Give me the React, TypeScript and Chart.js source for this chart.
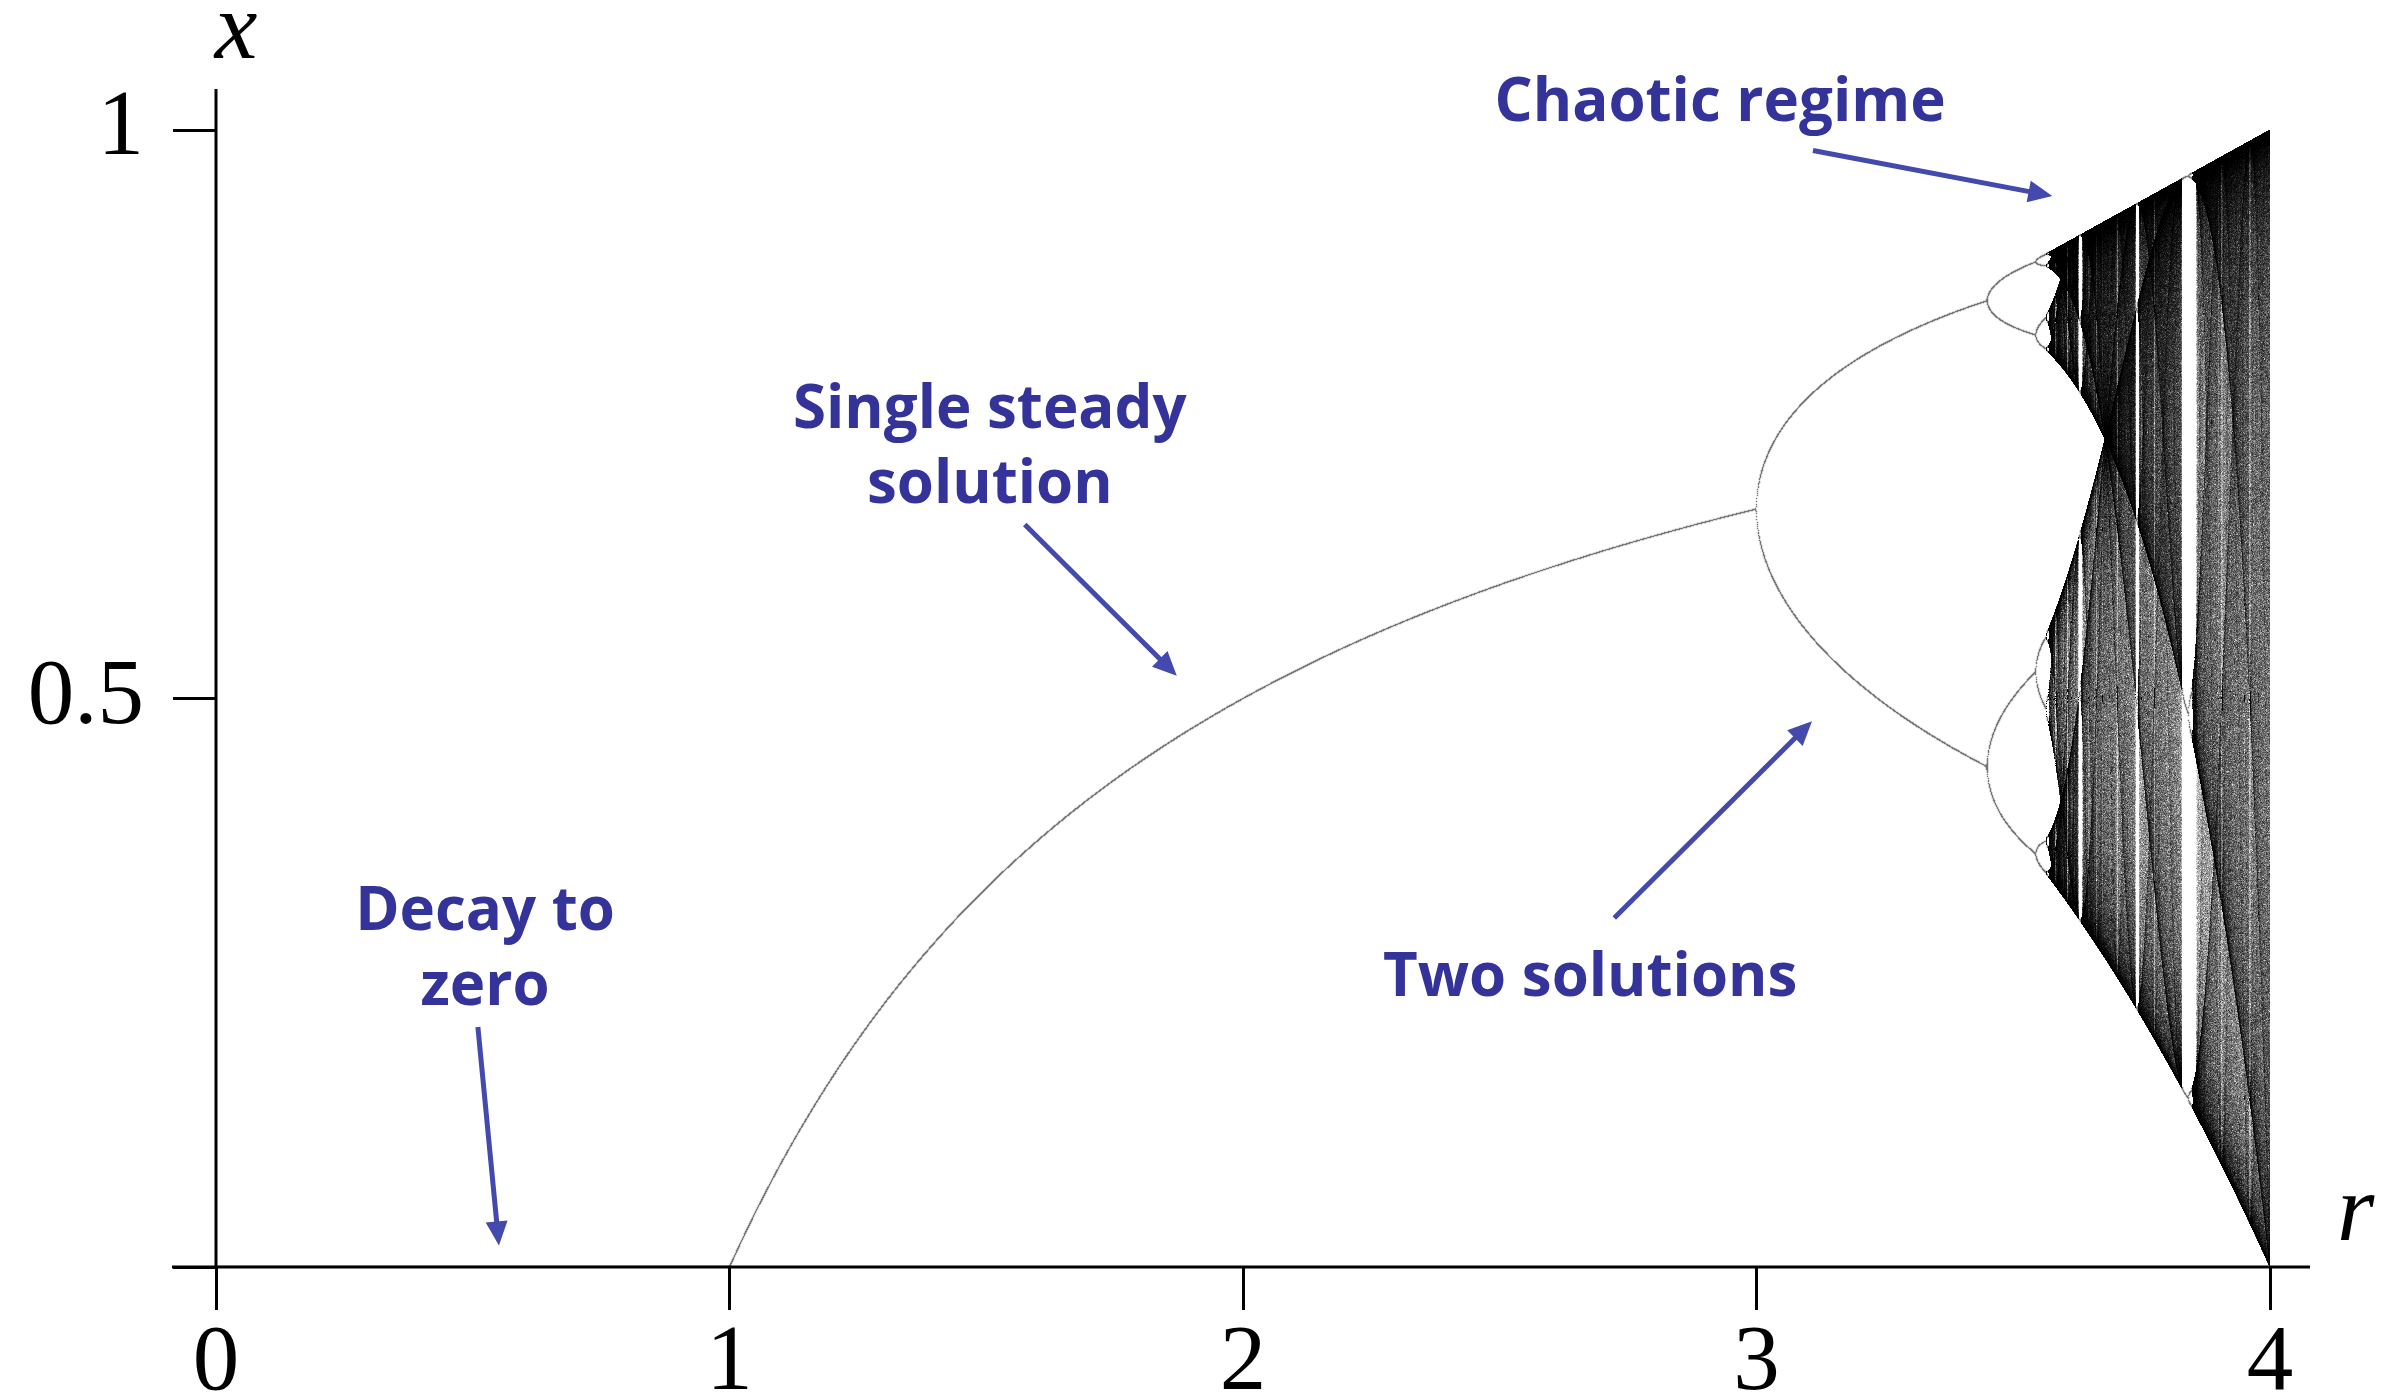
import React, { useEffect, useRef } from 'react';
import { Chart, registerables } from 'chart.js';

Chart.register(...registerables);

// Axes
const R_LIMITS = [0, 4];
const X_LIMITS = [0, 1];
const R_TICKS = [0, 1, 2, 3, 4];
const X_TICKS = [0, 0.5, 1];
const AXIS_REACH_R = [-0.0857, 4.078];
const AXIS_REACH_X = [0, 1.036];
const AXIS_TITLES = ['r', 'x'];
const AXIS_TITLE_R = [4.167, 0.039];
const AXIS_TITLE_X = [0.024, 1.063];

// Logistic map x -> r x (1 - x), sampled column by column in r
const R_COLUMNS = 2054;
const X_ROWS = 1137;
const SUBSAMPLES = 4;
const CHAOS_FROM = 3.4;
const SETTLE_STEPS = [2000, 600];
const KEPT_STEPS = [64, 3500];
const X_START = 0.5;
const PERIODIC_MAX_BINS = 40;
const SHADE_GAIN = 1500;
const SHADE_LEVELS = 32;

// Callouts
const LABEL_LINES = [['Decay to', 'zero'], ['Single steady', 'solution'], ['Two solutions'], ['Chaotic regime']];
const LABEL_R = [0.524, 1.507, 2.676, 2.929];
const LABEL_X = [0.296, 0.738, 0.238, 1.008];
const ARROW_FROM_R = [0.51, 1.575, 2.723, 3.11];
const ARROW_FROM_X = [0.211, 0.653, 0.307, 0.982];
const ARROW_TO_R = [0.551, 1.871, 3.108, 3.576];
const ARROW_TO_X = [0.019, 0.52, 0.48, 0.942];

type Pt = { x: number; y: number };

function buildOrbitBins() {
  const periodic: Pt[] = [];
  const shades: Pt[][] = Array.from({ length: SHADE_LEVELS + 1 }, () => []);
  const counts = new Uint32Array(X_ROWS);
  const span = R_LIMITS[1] - R_LIMITS[0];
  for (let c = 0; c < R_COLUMNS; c++) {
    counts.fill(0);
    const rMid = R_LIMITS[0] + ((c + 0.5) * span) / R_COLUMNS;
    const mode = rMid >= CHAOS_FROM ? 1 : 0;
    let total = 0;
    for (let s = 0; s < SUBSAMPLES; s++) {
      const r = R_LIMITS[0] + ((c + (s + 0.5) / SUBSAMPLES) * span) / R_COLUMNS;
      let x = X_START;
      for (let i = 0; i < SETTLE_STEPS[mode]; i++) x = r * x * (1 - x);
      for (let i = 0; i < KEPT_STEPS[mode]; i++) {
        x = r * x * (1 - x);
        let row = Math.floor(x * X_ROWS);
        if (row < 0) row = 0;
        if (row >= X_ROWS) row = X_ROWS - 1;
        counts[row]++;
        total++;
      }
    }
    let occupied = 0;
    for (let row = 0; row < X_ROWS; row++) if (counts[row] > 0) occupied++;
    for (let row = 0; row < X_ROWS; row++) {
      if (!counts[row]) continue;
      const p = { x: rMid, y: X_LIMITS[0] + ((row + 0.5) * (X_LIMITS[1] - X_LIMITS[0])) / X_ROWS };
      if (occupied <= PERIODIC_MAX_BINS) {
        periodic.push(p);
      } else {
        const d = counts[row] / total;
        const level = Math.round((1 - Math.exp(-SHADE_GAIN * d)) * SHADE_LEVELS);
        if (level > 0) shades[level].push(p);
      }
    }
  }
  return { periodic, shades };
}

const LABEL_FONT = "bold 60px 'Open Sans', 'DejaVu Sans', sans-serif";
const LABEL_COLOR = '#333399';
const ARROW_COLOR = '#4349ad';

const overlayPlugin = {
  id: 'bifurcationOverlay',
  afterDraw(chart: any) {
    const { ctx } = chart;
    const rs = chart.scales.x;
    const xs = chart.scales.y;
    const px = (r: number) => rs.getPixelForValue(r);
    const py = (v: number) => xs.getPixelForValue(v);
    ctx.save();

    // axis lines
    ctx.strokeStyle = '#000';
    ctx.lineWidth = 3;
    ctx.lineCap = 'butt';
    ctx.beginPath();
    ctx.moveTo(px(AXIS_REACH_R[0]), py(0));
    ctx.lineTo(px(AXIS_REACH_R[1]), py(0));
    ctx.moveTo(px(0), py(AXIS_REACH_X[1]));
    ctx.lineTo(px(0), py(0));
    ctx.stroke();

    // axis titles
    ctx.fillStyle = '#000';
    ctx.font = "italic 96px 'Liberation Serif', 'DejaVu Serif', serif";
    ctx.textAlign = 'center';
    ctx.textBaseline = 'alphabetic';
    AXIS_TITLES.forEach((t, i) => ctx.fillText(t, px(AXIS_TITLE_R[i]), py(AXIS_TITLE_X[i])));

    // callout texts
    ctx.font = LABEL_FONT;
    ctx.fillStyle = LABEL_COLOR;
    LABEL_LINES.forEach((lines, i) => {
      lines.forEach((line, j) => ctx.fillText(line, px(LABEL_R[i]), py(LABEL_X[i]) + j * 75));
    });

    // callout arrows
    ctx.strokeStyle = ARROW_COLOR;
    ctx.fillStyle = ARROW_COLOR;
    ctx.lineWidth = 5;
    for (let i = 0; i < ARROW_FROM_R.length; i++) {
      const x1 = px(ARROW_FROM_R[i]);
      const y1 = py(ARROW_FROM_X[i]);
      const x2 = px(ARROW_TO_R[i]);
      const y2 = py(ARROW_TO_X[i]);
      const len = Math.hypot(x2 - x1, y2 - y1);
      const ux = (x2 - x1) / len;
      const uy = (y2 - y1) / len;
      const head = 24;
      const half = 11;
      const bx = x2 - ux * head;
      const by = y2 - uy * head;
      ctx.beginPath();
      ctx.moveTo(x1, y1);
      ctx.lineTo(bx + ux * 2, by + uy * 2);
      ctx.stroke();
      ctx.beginPath();
      ctx.moveTo(x2, y2);
      ctx.lineTo(bx - uy * half, by + ux * half);
      ctx.lineTo(bx + uy * half, by - ux * half);
      ctx.closePath();
      ctx.fill();
    }
    ctx.restore();
  },
};

export default function App() {
  const canvasRef = useRef<HTMLCanvasElement | null>(null);

  useEffect(() => {
    const canvas = canvasRef.current;
    if (!canvas) return;
    const { periodic, shades } = buildOrbitBins();

    const datasets: any[] = [];
    shades.forEach((pts, level) => {
      if (!pts.length) return;
      const g = Math.round(255 * (1 - level / SHADE_LEVELS));
      datasets.push({
        data: pts,
        backgroundColor: `rgb(${g},${g},${g})`,
        pointStyle: 'rect',
        pointRadius: 0.71,
        borderWidth: 0,
      });
    });
    datasets.push({
      data: periodic,
      backgroundColor: 'rgb(120,120,120)',
      pointStyle: 'rect',
      pointRadius: 1.0,
      borderWidth: 0,
    });

    const tickFont = { family: "'Liberation Serif', 'DejaVu Serif', serif", size: 93, lineHeight: 1 };

    const chart = new Chart(canvas, {
      type: 'scatter',
      data: { datasets },
      options: {
        animation: false,
        responsive: false,
        devicePixelRatio: 1,
        parsing: false,
        normalized: true,
        events: [],
        layout: { padding: { top: 130, right: 129, left: 0, bottom: 0 } },
        plugins: { legend: { display: false }, tooltip: { enabled: false } },
        scales: {
          x: {
            type: 'linear',
            min: R_LIMITS[0],
            max: R_LIMITS[1],
            afterBuildTicks: (scale: any) => {
              scale.ticks = R_TICKS.map((v) => ({ value: v }));
            },
            afterFit: (scale: any) => {
              scale.height = 128;
            },
            ticks: {
              color: '#000',
              font: tickFont,
              padding: 8,
              maxRotation: 0,
              autoSkip: false,
              callback: (v: any) => String(v),
            },
            grid: {
              drawOnChartArea: false,
              drawTicks: true,
              tickLength: 43,
              tickWidth: 3,
              tickColor: '#000',
              color: '#000',
            },
            border: { display: false },
          },
          y: {
            type: 'linear',
            min: X_LIMITS[0],
            max: X_LIMITS[1],
            afterBuildTicks: (scale: any) => {
              scale.ticks = X_TICKS.map((v) => ({ value: v }));
            },
            afterFit: (scale: any) => {
              scale.width = 216;
            },
            ticks: {
              color: '#000',
              font: tickFont,
              padding: 29,
              autoSkip: false,
              callback: (v: any) => (v === 0 ? '' : String(v)),
            },
            grid: {
              drawOnChartArea: false,
              drawTicks: true,
              tickLength: 43,
              tickWidth: 3,
              tickColor: '#000',
              color: '#000',
            },
            border: { display: false },
          },
        },
      },
      plugins: [overlayPlugin],
    });

    return () => chart.destroy();
  }, []);

  return (
    <div style={{ position: 'absolute', left: 0, top: 0, width: 2399, height: 1395, background: '#fff' }}>
      <canvas ref={canvasRef} width={2399} height={1395} style={{ display: 'block', width: 2399, height: 1395 }} />
    </div>
  );
}
